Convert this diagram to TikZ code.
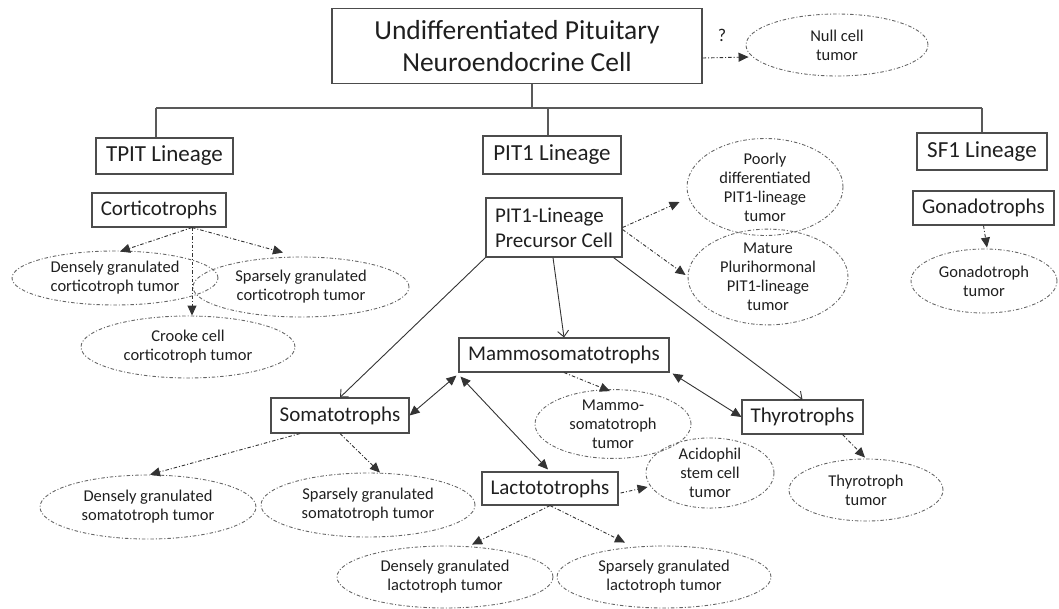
\documentclass[tikz,border=0pt]{standalone}
\usepackage{fontspec}
\setmainfont{Carlito}
\usetikzlibrary{shapes.geometric,arrows.meta,calc}
\begin{document}
\begin{tikzpicture}[x=1pt,y=-1pt,
  box/.style={draw=black!70, line width=1.1pt, inner sep=0pt, text=black!88,
    font=\fontsize{21}{25}\selectfont, align=center},
  lin/.style={box, font=\fontsize{23}{27}\selectfont},
  tum/.style={ellipse, draw=black!60, line width=0.9pt, inner sep=0pt, text=black!88,
    dash pattern=on 3.5pt off 2pt on 1pt off 2pt,
    font=\fontsize{16.5}{19}\selectfont, align=center},
  con/.style={draw=black!80, line width=0.9pt},
  sarr/.style={con, -{Straight Barb[length=6pt,width=11pt]}},
  darr/.style={con, -{Triangle[length=10pt,width=9pt]}, dash pattern=on 3.5pt off 2pt on 1pt off 2pt},
  barr/.style={con, {Triangle[length=10pt,width=9pt]}-{Triangle[length=10pt,width=9pt]}},
  bus/.style={draw=black!65, line width=1.2pt}
]
\useasboundingbox (0,0) rectangle (1059,608);

% nodes
\node[box, minimum width=370pt, minimum height=75pt, font=\fontsize{27.5}{32}\selectfont] (top) at (517,46) {Undifferentiated Pituitary\\Neuroendocrine Cell};
\node[tum, minimum width=182pt, minimum height=62pt] (null) at (837,45) {Null cell\\tumor};
\node[font=\fontsize{18}{20}\selectfont, text=black!88] (q) at (722,35) {?};

\node[lin, minimum width=137pt, minimum height=36pt] (tpit) at (164.5,156) {TPIT Lineage};
\node[lin, minimum width=138pt, minimum height=38pt] (pit1) at (552,155) {PIT1 Lineage};
\node[lin, minimum width=130pt, minimum height=37pt] (sf1) at (982,151.5) {SF1 Lineage};

\node[box, minimum width=134pt, minimum height=34pt] (cort) at (159,210) {Corticotrophs};
\node[tum, minimum width=206pt, minimum height=54pt] (dcort) at (115,278) {Densely granulated\\corticotroph tumor};
\node[tum, minimum width=216pt, minimum height=60pt] (scort) at (301,287) {Sparsely granulated\\corticotroph tumor};
\node[tum, minimum width=214pt, minimum height=62pt] (crooke) at (188,347) {Crooke cell\\corticotroph tumor};

\node[box, minimum width=136pt, minimum height=59pt, align=left] (prec) at (554,227.5) {PIT1-Lineage\\Precursor Cell};
\node[tum, minimum width=156pt, minimum height=80pt] (poor) at (765,187) {Poorly\\differentiated\\PIT1-lineage\\tumor};
\node[tum, minimum width=160pt, minimum height=82pt] (mature) at (768,277) {Mature\\Plurihormonal\\PIT1-lineage\\tumor};

\node[box, minimum width=210pt, minimum height=34pt] (mammo) at (564,355) {Mammosomatotrophs};
\node[box, minimum width=138pt, minimum height=35pt] (somato) at (340,415.5) {Somatotrophs};
\node[tum, minimum width=156pt, minimum height=66pt] (mst) at (613,424) {Mammo-\\somatotroph\\tumor};
\node[box, minimum width=121pt, minimum height=34pt] (thyro) at (802.5,417) {Thyrotrophs};
\node[box, minimum width=136pt, minimum height=33pt] (lacto) at (550,488.5) {Lactototrophs};
\node[tum, minimum width=128pt, minimum height=64pt] (acid) at (710,473) {Acidophil\\stem cell\\tumor};

\node[tum, minimum width=216pt, minimum height=64pt] (dsom) at (148,507) {Densely granulated\\somatotroph tumor};
\node[tum, minimum width=214pt, minimum height=64pt] (ssom) at (368,505) {Sparsely granulated\\somatotroph tumor};
\node[tum, minimum width=216pt, minimum height=62pt] (dlac) at (445,577) {Densely granulated\\lactotroph tumor};
\node[tum, minimum width=214pt, minimum height=62pt] (slac) at (664,577) {Sparsely granulated\\lactotroph tumor};
\node[tum, minimum width=154pt, minimum height=62pt] (ttum) at (866,490) {Thyrotroph\\tumor};

\node[box, minimum width=141pt, minimum height=34pt] (gona) at (983.5,208) {Gonadotrophs};
\node[tum, minimum width=146pt, minimum height=64pt] (gtum) at (984,281) {Gonadotroph\\tumor};

% tree bus
\coordinate (jTop) at (532,108);
\coordinate (jT) at (156,108);
\coordinate (jP) at (548,108);
\coordinate (jS) at (982,108);
\draw[bus] (jTop |- top.south) -- (jTop);
\draw[bus] (jT) -- (jS);
\draw[bus] (jT) -- (jT |- tpit.north);
\draw[bus] (jP) -- (jP |- pit1.north);
\draw[bus] (jS) -- (jS |- sf1.north);

% null cell
\draw[darr] ($(top.east)+(0,12)$) -- ($(null.west)+(3,12)$);

% corticotrophs
\draw[darr] ($(cort.south)+(33,0)$) -- ($(dcort.north)+(5,1)$);
\draw[darr] ($(cort.south)+(33,0)$) -- ($(scort.north)+(-18,-4)$);
\draw[darr] ($(cort.south)+(33,0)$) -- ($(crooke.north)+(4,0)$);

% precursor
\draw[darr] (prec.east) -- ($(poor.west)+(-7,15)$);
\draw[darr] ($(prec.east)+(0,2)$) -- ($(mature.west)+(-2,-2)$);
\draw[sarr] ($(prec.south)+(-1,0)$) -- (mammo.north);
\draw[sarr] (prec.south west) -- (somato.north);
\draw[sarr] ($(prec.south east)+(-9,0)$) -- (thyro.north);

% double arrows
\draw[barr] ($(mammo.south west)+(-2,3)$) -- (somato.east);
\draw[barr] ($(mammo.south west)+(2,4)$) -- ($(lacto.north)+(-2,-2)$);
\draw[barr] ($(mammo.south east)+(3,1)$) -- (thyro.west);

% tumours
\draw[darr] (mammo.south) -- ($(mst.north)+(-3,2)$);
\draw[darr] ($(somato.south)+(-40,0)$) -- ($(dsom.north)+(2,0)$);
\draw[darr] (somato.south) -- ($(ssom.north)+(12,0)$);
\draw[darr] ($(lacto.east)+(2,4.5)$) -- ($(acid.west)+(2,14)$);
\draw[darr] (lacto.south) -- ($(dlac.north)+(27,-1)$);
\draw[darr] (lacto.south) -- ($(slac.north)+(-39,-3)$);
\draw[darr] ($(thyro.south)+(40,0)$) -- ($(ttum.north)+(-1,-1)$);
\draw[darr] (gona.south) -- ($(gtum.north)+(3,-1)$);
\end{tikzpicture}
\end{document}
